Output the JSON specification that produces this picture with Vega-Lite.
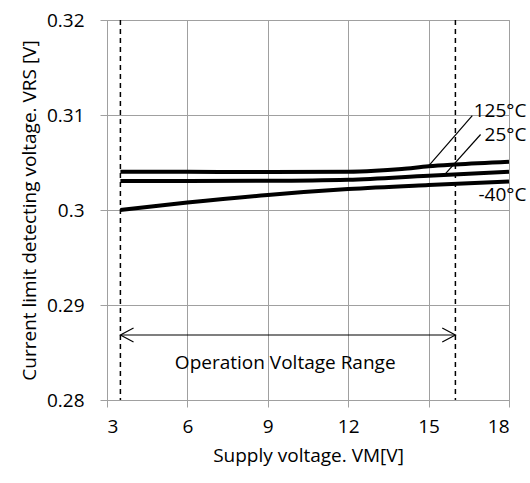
{
  "$schema": "https://vega.github.io/schema/vega-lite/v6.json",
  "width": 402,
  "height": 380,
  "autosize": {"type": "none"},
  "padding": {"left": 107, "top": 20, "right": 21, "bottom": 83},
  "config": {
    "font": "Open Sans",
    "view": {"stroke": "#a0a0a0", "strokeWidth": 1},
    "text": {"font": "Open Sans", "fontSize": 19, "color": "#000000"}
  },
  "datasets": {
    "series": [
      {"temp": "125°C", "vm": 3.5, "v": 0.30403},
      {"temp": "125°C", "vm": 6, "v": 0.30402},
      {"temp": "125°C", "vm": 9, "v": 0.30400},
      {"temp": "125°C", "vm": 12, "v": 0.30402},
      {"temp": "125°C", "vm": 13, "v": 0.30412},
      {"temp": "125°C", "vm": 14, "v": 0.30432},
      {"temp": "125°C", "vm": 15, "v": 0.30460},
      {"temp": "125°C", "vm": 16, "v": 0.30479},
      {"temp": "125°C", "vm": 18, "v": 0.30508},
      {"temp": "25°C", "vm": 3.5, "v": 0.30305},
      {"temp": "25°C", "vm": 6, "v": 0.30305},
      {"temp": "25°C", "vm": 9, "v": 0.30307},
      {"temp": "25°C", "vm": 12, "v": 0.30318},
      {"temp": "25°C", "vm": 15, "v": 0.30361},
      {"temp": "25°C", "vm": 18, "v": 0.30403},
      {"temp": "-40°C", "vm": 3.5, "v": 0.30000},
      {"temp": "-40°C", "vm": 6, "v": 0.30078},
      {"temp": "-40°C", "vm": 9, "v": 0.30158},
      {"temp": "-40°C", "vm": 12, "v": 0.30220},
      {"temp": "-40°C", "vm": 15, "v": 0.30263},
      {"temp": "-40°C", "vm": 18, "v": 0.30300}
    ],
    "bounds": [{"vm": 3.5}, {"vm": 16}],
    "leaders": [
      {"id": "125", "o": 0, "vm": 15.01, "v": 0.30466},
      {"id": "125", "o": 1, "vm": 16.63, "v": 0.30993},
      {"id": "25", "o": 0, "vm": 15.64, "v": 0.30386},
      {"id": "25", "o": 1, "vm": 16.94, "v": 0.30795}
    ],
    "arrow": [
      {"id": "shaft", "o": 0, "vm": 3.5, "v": 0.28684},
      {"id": "shaft", "o": 1, "vm": 16, "v": 0.28684},
      {"id": "left", "o": 0, "vm": 3.99, "v": 0.28758},
      {"id": "left", "o": 1, "vm": 3.5, "v": 0.28684},
      {"id": "left", "o": 2, "vm": 3.99, "v": 0.28610},
      {"id": "right", "o": 0, "vm": 15.51, "v": 0.28758},
      {"id": "right", "o": 1, "vm": 16, "v": 0.28684},
      {"id": "right", "o": 2, "vm": 15.51, "v": 0.28610}
    ],
    "labels": [
      {"label": "125°C", "vm": 18.65, "v": 0.31042, "align": "right"},
      {"label": "25°C", "vm": 18.65, "v": 0.30789, "align": "right"},
      {"label": "-40°C", "vm": 18.65, "v": 0.30158, "align": "right"},
      {"label": "Operation Voltage Range", "vm": 9.65, "v": 0.28386, "align": "center"}
    ]
  },
  "layer": [
    {
      "data": {"name": "series"},
      "mark": {"type": "line", "color": "#000000", "strokeWidth": 4, "interpolate": "monotone"},
      "encoding": {
        "x": {
          "field": "vm", "type": "quantitative",
          "scale": {"domain": [3, 18], "nice": false, "zero": false},
          "axis": {
            "values": [3, 6, 9, 12, 15, 18],
            "title": "Supply voltage. VM[V]",
            "grid": true, "gridColor": "#a0a0a0", "gridWidth": 1,
            "domainColor": "#a0a0a0", "tickColor": "#a0a0a0", "tickSize": 7,
            "labelFontSize": 19, "labelColor": "#000000", "labelPadding": 10,
            "labelFont": "Open Sans",
            "titleFontSize": 19, "titleFontWeight": "normal", "titleColor": "#000000",
            "titleFont": "Open Sans", "titlePadding": 10
          }
        },
        "y": {
          "field": "v", "type": "quantitative",
          "scale": {"domain": [0.28, 0.32], "nice": false, "zero": false},
          "axis": {
            "values": [0.28, 0.29, 0.3, 0.31, 0.32],
            "format": "~g",
            "title": "Current limit detecting voltage. VRS [V]",
            "grid": true, "gridColor": "#a0a0a0", "gridWidth": 1,
            "domainColor": "#a0a0a0", "tickColor": "#a0a0a0", "tickSize": 7,
            "labelFontSize": 19, "labelColor": "#000000", "labelPadding": 16,
            "labelFont": "Open Sans",
            "titleFontSize": 19, "titleFontWeight": "normal", "titleColor": "#000000",
            "titleFont": "Open Sans", "titlePadding": 7
          }
        },
        "detail": {"field": "temp"}
      }
    },
    {
      "data": {"name": "bounds"},
      "mark": {"type": "rule", "color": "#000000", "strokeWidth": 1.5, "strokeDash": [5, 4]},
      "encoding": {"x": {"field": "vm", "type": "quantitative"}}
    },
    {
      "data": {"name": "leaders"},
      "mark": {"type": "line", "color": "#000000", "strokeWidth": 1.2},
      "encoding": {
        "x": {"field": "vm", "type": "quantitative"},
        "y": {"field": "v", "type": "quantitative"},
        "detail": {"field": "id"},
        "order": {"field": "o", "type": "quantitative"}
      }
    },
    {
      "data": {"name": "arrow"},
      "mark": {"type": "line", "color": "#000000", "strokeWidth": 1.2},
      "encoding": {
        "x": {"field": "vm", "type": "quantitative"},
        "y": {"field": "v", "type": "quantitative"},
        "detail": {"field": "id"},
        "order": {"field": "o", "type": "quantitative"}
      }
    },
    {
      "data": {"name": "labels"},
      "transform": [{"filter": "datum.align == 'right'"}],
      "mark": {"type": "text", "align": "right", "baseline": "middle", "fontSize": 19},
      "encoding": {
        "x": {"field": "vm", "type": "quantitative"},
        "y": {"field": "v", "type": "quantitative"},
        "text": {"field": "label"}
      }
    },
    {
      "data": {"name": "labels"},
      "transform": [{"filter": "datum.align == 'center'"}],
      "mark": {"type": "text", "align": "center", "baseline": "middle", "fontSize": 19},
      "encoding": {
        "x": {"field": "vm", "type": "quantitative"},
        "y": {"field": "v", "type": "quantitative"},
        "text": {"field": "label"}
      }
    }
  ]
}
